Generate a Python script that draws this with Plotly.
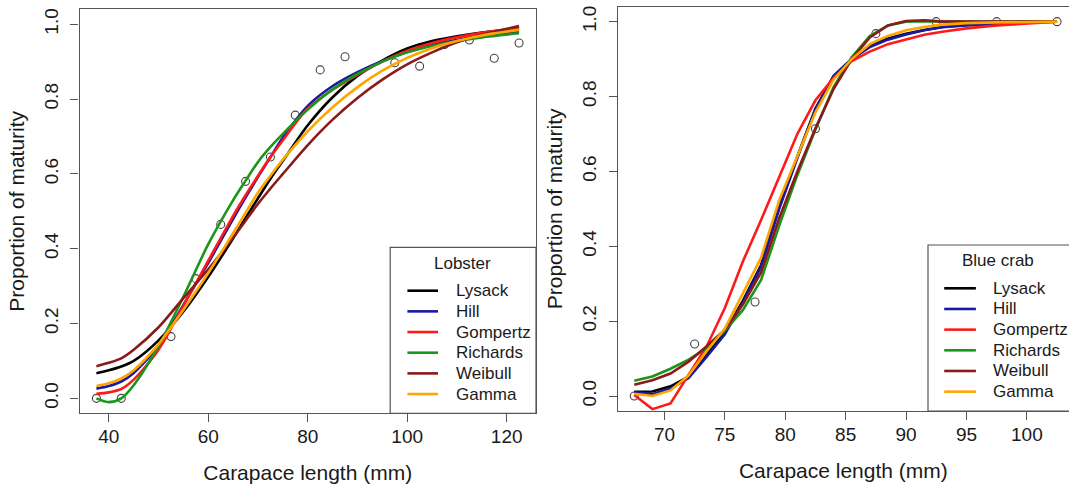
import plotly.graph_objects as go

# ---------------- Lobster (left panel) ----------------
lob_pts_x = [37.5, 42.5, 52.5, 57.5, 62.5, 67.5, 72.5, 77.5, 82.5, 87.5, 97.5, 102.5, 107.5, 112.5, 117.5, 122.5]
lob_pts_y = [0.0, 0.0, 0.165, 0.32, 0.465, 0.58, 0.645, 0.757, 0.878, 0.913, 0.897, 0.888, 0.946, 0.958, 0.909, 0.950]

lob_x = [37.5, 40, 42.5, 45, 50, 55, 60, 65, 67.5, 70, 72.5, 75, 80, 85, 90, 95, 100, 105, 110, 115, 122.5]
lob_lysack   = [0.067, 0.075, 0.085, 0.100, 0.155, 0.232, 0.325, 0.428, 0.482, 0.535, 0.587, 0.635, 0.730, 0.805, 0.862, 0.903, 0.935, 0.955, 0.968, 0.978, 0.988]
lob_hill     = [0.026, 0.033, 0.045, 0.068, 0.140, 0.250, 0.362, 0.480, 0.537, 0.592, 0.645, 0.697, 0.782, 0.835, 0.872, 0.902, 0.926, 0.945, 0.958, 0.969, 0.981]
lob_gompertz = [0.012, 0.016, 0.025, 0.050, 0.130, 0.248, 0.368, 0.488, 0.543, 0.595, 0.645, 0.690, 0.775, 0.825, 0.865, 0.900, 0.929, 0.950, 0.965, 0.977, 0.990]
lob_richards = [0.000, -0.010, 0.000, 0.035, 0.140, 0.272, 0.412, 0.530, 0.582, 0.632, 0.672, 0.707, 0.772, 0.826, 0.867, 0.900, 0.925, 0.942, 0.955, 0.965, 0.976]
lob_weibull  = [0.086, 0.095, 0.107, 0.130, 0.190, 0.268, 0.345, 0.430, 0.475, 0.520, 0.561, 0.600, 0.677, 0.745, 0.803, 0.852, 0.893, 0.925, 0.952, 0.972, 0.995]
lob_gamma    = [0.033, 0.040, 0.053, 0.075, 0.145, 0.237, 0.335, 0.442, 0.496, 0.550, 0.595, 0.638, 0.714, 0.778, 0.832, 0.876, 0.910, 0.936, 0.955, 0.970, 0.985]

# ---------------- Blue crab (right panel) ----------------
bc_pts_x = [67.5, 72.5, 77.5, 82.5, 87.5, 92.5, 97.5, 102.5]
bc_pts_y = [0.0, 0.139, 0.251, 0.714, 0.968, 1.0, 1.0, 1.0]

bc_x = [67.5, 69, 70.5, 72, 73.5, 75, 76.5, 78, 79.5, 81, 82.5, 84, 85.5, 87, 88.5, 90, 91.5, 93, 95, 97.5, 100, 102.5]
bc_lysack   = [0.011, 0.012, 0.026, 0.052, 0.112, 0.170, 0.255, 0.350, 0.505, 0.640, 0.768, 0.855, 0.900, 0.935, 0.955, 0.968, 0.978, 0.986, 0.991, 0.996, 0.999, 1.000]
bc_hill     = [0.010, 0.005, 0.020, 0.048, 0.105, 0.165, 0.250, 0.345, 0.500, 0.636, 0.766, 0.855, 0.900, 0.932, 0.952, 0.966, 0.977, 0.985, 0.990, 0.995, 0.998, 1.000]
bc_gompertz = [0.003, -0.035, -0.020, 0.055, 0.133, 0.235, 0.360, 0.470, 0.585, 0.700, 0.790, 0.850, 0.895, 0.920, 0.940, 0.953, 0.965, 0.973, 0.982, 0.990, 0.996, 1.000]
bc_richards = [0.041, 0.052, 0.073, 0.097, 0.128, 0.175, 0.230, 0.310, 0.455, 0.590, 0.712, 0.825, 0.905, 0.962, 0.990, 1.000, 1.001, 1.000, 1.000, 1.000, 1.000, 1.000]
bc_weibull  = [0.030, 0.042, 0.060, 0.092, 0.133, 0.177, 0.245, 0.330, 0.475, 0.600, 0.715, 0.820, 0.900, 0.958, 0.990, 1.002, 1.004, 1.000, 1.000, 1.000, 1.000, 1.000]
bc_gamma    = [0.006, 0.000, 0.015, 0.055, 0.120, 0.180, 0.275, 0.370, 0.523, 0.641, 0.758, 0.845, 0.900, 0.940, 0.962, 0.977, 0.986, 0.992, 0.996, 0.998, 1.000, 1.000]

model_names = ["Lysack", "Hill", "Gompertz", "Richards", "Weibull", "Gamma"]
model_colors = ["#000000", "#1a1aa0", "#ff1a1a", "#1a961a", "#8b1a1a", "#ffa500"]
legend_titles = ["Lobster", "Blue crab"]

lob_curves = [lob_lysack, lob_hill, lob_gompertz, lob_richards, lob_weibull, lob_gamma]
bc_curves = [bc_lysack, bc_hill, bc_gompertz, bc_richards, bc_weibull, bc_gamma]

FONT = "Liberation Sans, Arial, sans-serif"
TXT = "#1a1a1a"
W, H = 1069, 485

fig = go.Figure()

fig.add_trace(go.Scatter(x=lob_pts_x, y=lob_pts_y, mode="markers", xaxis="x", yaxis="y",
                         marker=dict(symbol="circle-open", size=8, color="#444444", line=dict(width=1.1)),
                         showlegend=False, hoverinfo="x+y"))
for name, col, ys in zip(model_names, model_colors, lob_curves):
    fig.add_trace(go.Scatter(x=lob_x, y=ys, mode="lines", name=name, xaxis="x", yaxis="y",
                             line=dict(color=col, width=2.6, shape="spline", smoothing=0.8),
                             showlegend=False))

fig.add_trace(go.Scatter(x=bc_pts_x, y=bc_pts_y, mode="markers", xaxis="x2", yaxis="y2",
                         marker=dict(symbol="circle-open", size=8, color="#444444", line=dict(width=1.1)),
                         showlegend=False, hoverinfo="x+y"))
for name, col, ys in zip(model_names, model_colors, bc_curves):
    fig.add_trace(go.Scatter(x=bc_x, y=ys, mode="lines", name=name, xaxis="x2", yaxis="y2",
                             line=dict(color=col, width=2.6),
                             showlegend=False))

axis_col = "#555555"
common_x = dict(showgrid=False, zeroline=False, showline=True, linecolor=axis_col, linewidth=1.2,
                ticks="outside", ticklen=8, tickwidth=1.2, tickcolor=axis_col,
                tickfont=dict(family=FONT, size=19, color=TXT), mirror=True, ticklabelstandoff=-2)
common_y = dict(showgrid=False, zeroline=False, showline=True, linecolor=axis_col, linewidth=1.2,
                ticks="outside", ticklen=8, tickwidth=1.2, tickcolor=axis_col,
                tickfont=dict(family=FONT, size=19, color=TXT), tickangle=-90, ticklabelstandoff=5,
                tickvals=[0, 0.2, 0.4, 0.6, 0.8, 1.0], ticktext=["0.0", "0.2", "0.4", "0.6", "0.8", "1.0"])

title_font = dict(family=FONT, size=21, color=TXT)

fig.update_layout(
    width=W, height=H,
    margin=dict(l=0, r=0, t=0, b=0, autoexpand=False),
    paper_bgcolor="white", plot_bgcolor="white",
    showlegend=False,
    xaxis=dict(common_x, domain=[79.5 / W, 536 / W], range=[34.1, 125.9],
               tickvals=[40, 60, 80, 100, 120], anchor="y",
               title=dict(text="Carapace length (mm)", font=title_font, standoff=19)),
    yaxis=dict(common_y, domain=[(H - 413.3) / H, (H - 9.3) / H], range=[-0.04, 1.04], anchor="x",
               mirror=True,
               title=dict(text="Proportion of maturity", font=title_font, standoff=10)),
    xaxis2=dict(common_x, domain=[617.7 / W, 1.0], range=[66.13, 103.49],
                tickvals=[70, 75, 80, 85, 90, 95, 100], anchor="y2",
                title=dict(text="Carapace length (mm)", font=title_font, standoff=19)),
    yaxis2=dict(common_y, domain=[(H - 411) / H, (H - 6.7) / H], range=[-0.04, 1.04], anchor="x2",
                mirror=False,
                title=dict(text="Proportion of maturity", font=title_font, standoff=10)),
)

# ---- legends (boxes with titles, line keys and labels), positioned in pixels ----
def px(x):
    return x / W

def py(y):
    return 1 - y / H

legend_specs = [
    dict(l=390.2, r=536.0, t=247.3, b=413.3, tx=462.8, ty=263.3, ey=290.7, k0=407.4, k1=438.0, lx=453.9),
    dict(l=928.0, r=1085.0, t=245.0, b=411.0, tx=998.0, ty=260.7, ey=288.3, k0=944.2, k1=975.9, lx=990.6),
]
step = 20.67
for spec, ttl in zip(legend_specs, legend_titles):
    fig.add_shape(type="rect", xref="paper", yref="paper",
                  x0=px(spec["l"]), x1=px(spec["r"]), y0=py(spec["b"]), y1=py(spec["t"]),
                  line=dict(color=axis_col, width=1.2), fillcolor="white", layer="above")
    fig.add_annotation(xref="paper", yref="paper", x=px(spec["tx"]), y=py(spec["ty"]),
                       text=ttl, showarrow=False, xanchor="center", yanchor="middle",
                       font=dict(family=FONT, size=17, color=TXT))
    for i, (name, col) in enumerate(zip(model_names, model_colors)):
        yy = spec["ey"] + i * step
        fig.add_shape(type="line", xref="paper", yref="paper",
                      x0=px(spec["k0"]), x1=px(spec["k1"]), y0=py(yy), y1=py(yy),
                      line=dict(color=col, width=2.6), layer="above")
        fig.add_annotation(xref="paper", yref="paper", x=px(spec["lx"]), y=py(yy),
                           text=name, showarrow=False, xanchor="left", yanchor="middle",
                           font=dict(family=FONT, size=17, color=TXT))

fig.write_html("out.html", config={"displayModeBar": False},
               post_script="document.body.style.margin='0px';")
